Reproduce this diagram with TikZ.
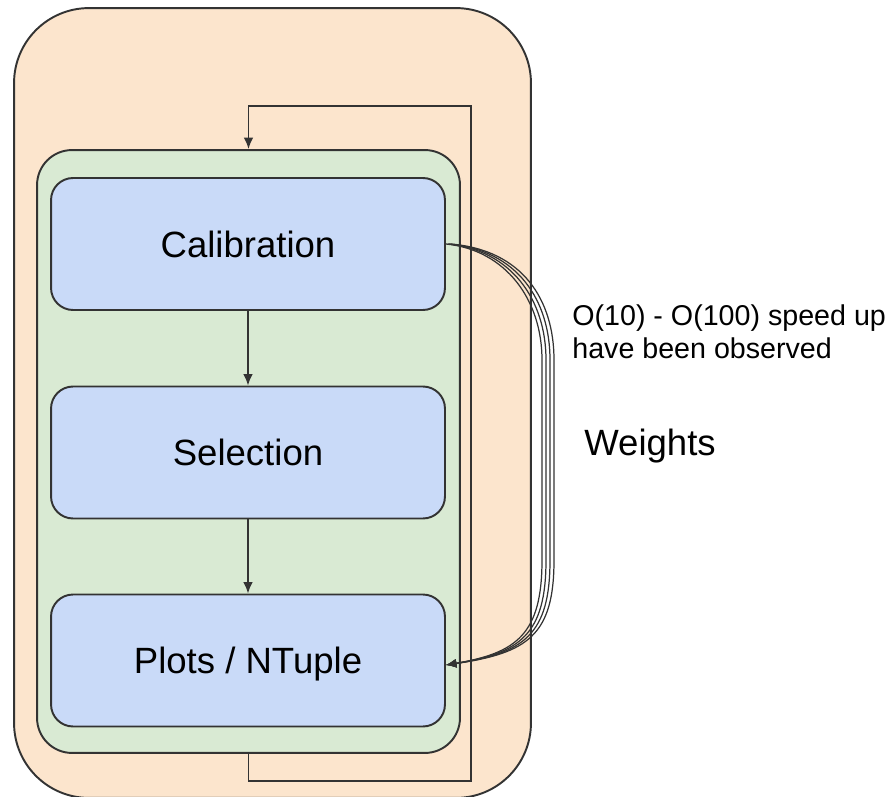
\documentclass[tikz,border=0pt]{standalone}
\usepackage{fontspec}
\setmainfont{Liberation Sans}
\usetikzlibrary{arrows.meta}
\definecolor{peach}{HTML}{FCE5CD}
\definecolor{sage}{HTML}{D9EAD3}
\definecolor{sky}{HTML}{C9DAF8}
\definecolor{edge}{HTML}{333333}
\begin{document}
\begin{tikzpicture}[x=0.02cm,y=-0.02cm,
    outerbox/.style={draw=edge,line width=1.1pt,fill=peach,rounded corners=1.5cm,
      minimum width=10.34cm,minimum height=15.8cm},
    groupbox/.style={draw=edge,line width=1.1pt,fill=sage,rounded corners=0.7cm,
      minimum width=8.46cm,minimum height=12.06cm},
    stagebox/.style={draw=edge,line width=1.1pt,fill=sky,rounded corners=0.44cm,
      minimum width=7.88cm,minimum height=2.64cm,inner sep=0pt,
      text height=14.9pt,text depth=0pt,
      font=\fontsize{20.8}{25}\selectfont},
    flow/.style={draw=edge,line width=1pt,-{Latex[length=6.5pt,width=5.5pt]}},
    weight/.style={draw=edge,line width=0.7pt,-{Latex[length=6pt,width=5pt]}}]
    \useasboundingbox (0,0) rectangle (892,797);
    \node[outerbox] (outer) at (272.5,403) {};
    \node[groupbox] (group) at (248.5,451.5) {};
    \node[stagebox] (calib) at (248,244) {Calibration};
    \node[stagebox] (select) at (248,452.5) {Selection};
    \node[stagebox] (plots) at (248,660.5) {Plots / NTuple};
    \draw[flow] (calib) -- (select);
    \draw[flow] (select) -- (plots);
    % feedback loop round the group
    \coordinate (loop) at (471,106);
    \draw[flow] (group.south) -- ++(0,27) -| (loop) -| (group.north);
    % weights passed from calibration to the plots
    \foreach \o in {0,4,8,12}
      \draw[weight] ([xshift=\o*0.008cm]calib.east) .. controls +(60+\o,6) and +(0,-60) .. (542+\o,360)
        -- (542+\o,560) .. controls +(0,75) and +(70+\o,-12) .. ([yshift=-0.09cm]plots.east);
    \node[anchor=west,inner sep=0pt,align=left,font=\fontsize{16.3}{18.7}\selectfont] (note) at (572,332)
      {O(10) - O(100) speed up\\have been observed};
    \node[anchor=west,inner sep=0pt,font=\fontsize{20.8}{25}\selectfont] (weights) at (584,446) {Weights};
  \end{tikzpicture}
\end{document}
